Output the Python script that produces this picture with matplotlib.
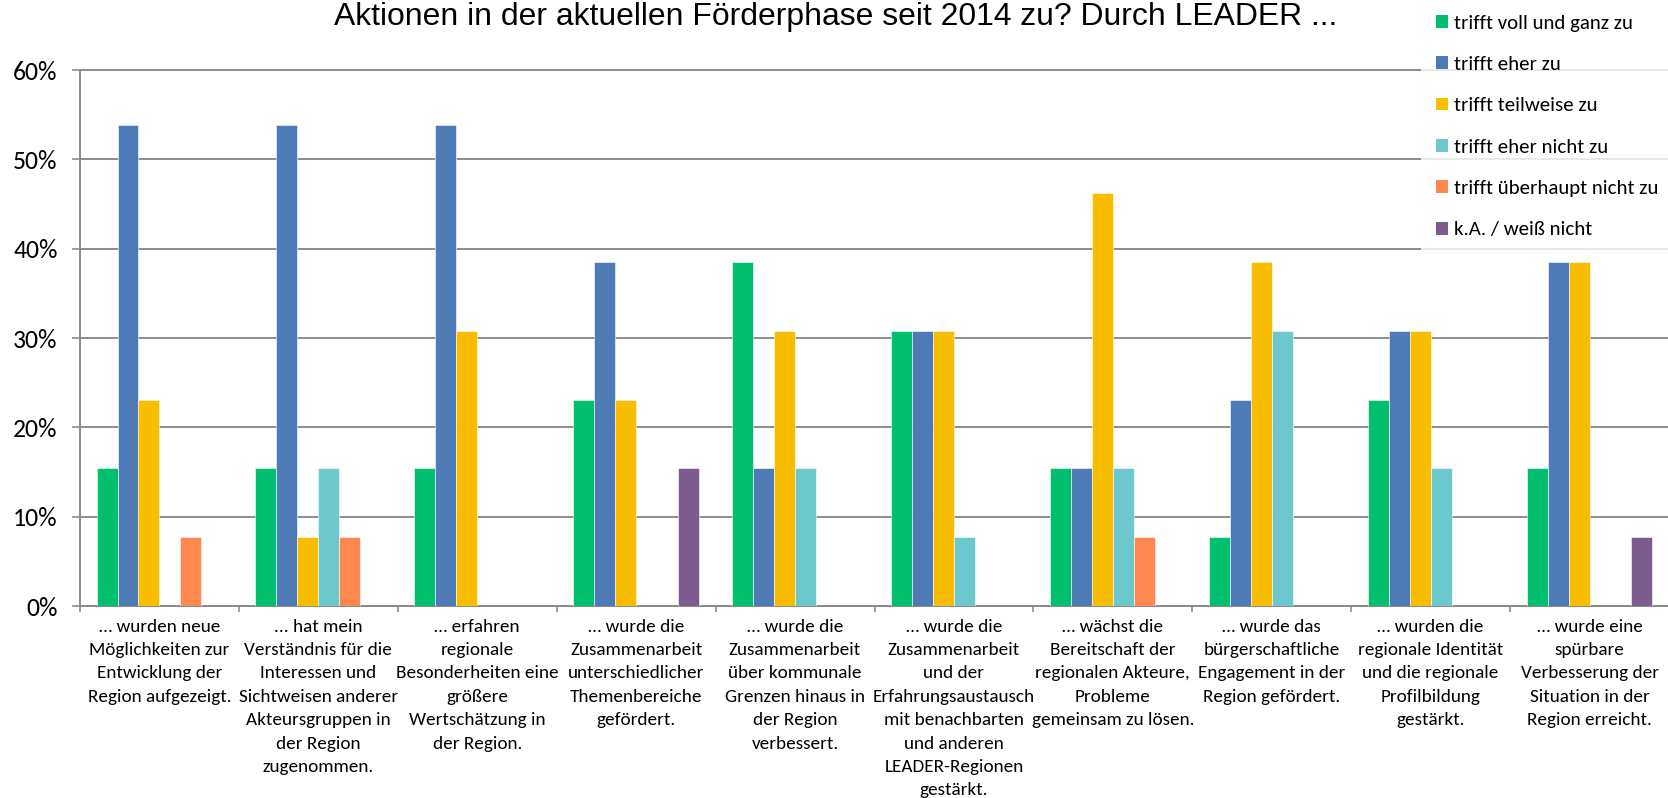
import numpy as np
import matplotlib
matplotlib.use("Agg")
import matplotlib.pyplot as plt
from matplotlib import font_manager
from matplotlib.patches import Patch

avail = {f.name for f in font_manager.fontManager.ttflist}
BODY = "Carlito" if "Carlito" in avail else "Lato"
TITLE = "Liberation Sans" if "Liberation Sans" in avail else "DejaVu Sans"

categories = [
    "… wurden neue\nMöglichkeiten zur\nEntwicklung der\nRegion aufgezeigt.",
    "... hat mein\nVerständnis für die\nInteressen und\nSichtweisen anderer\nAkteursgruppen in\nder Region\nzugenommen.",
    "… erfahren\nregionale\nBesonderheiten eine\ngrößere\nWertschätzung in\nder Region.",
    "… wurde die\nZusammenarbeit\nunterschiedlicher\nThemenbereiche\ngefördert.",
    "… wurde die\nZusammenarbeit\nüber kommunale\nGrenzen hinaus in\nder Region\nverbessert.",
    "… wurde die\nZusammenarbeit\nund der\nErfahrungsaustausch\nmit benachbarten\nund anderen\nLEADER-Regionen\ngestärkt.",
    "… wächst die\nBereitschaft der\nregionalen Akteure,\nProbleme\ngemeinsam zu lösen.",
    "… wurde das\nbürgerschaftliche\nEngagement in der\nRegion gefördert.",
    "… wurden die\nregionale Identität\nund die regionale\nProfilbildung\ngestärkt.",
    "… wurde eine\nspürbare\nVerbesserung der\nSituation in der\nRegion erreicht.",
]

series_names = [
    "trifft voll und ganz zu",
    "trifft eher zu",
    "trifft teilweise zu",
    "trifft eher nicht zu",
    "trifft überhaupt nicht zu",
    "k.A. / weiß nicht",
]

voll_und_ganz = [15.4, 15.4, 15.4, 23.1, 38.5, 30.8, 15.4, 7.7, 23.1, 15.4]
eher_zu = [53.8, 53.8, 53.8, 38.5, 15.4, 30.8, 15.4, 23.1, 30.8, 38.5]
teilweise = [23.1, 7.7, 30.8, 23.1, 30.8, 30.8, 46.2, 38.5, 30.8, 38.5]
eher_nicht = [0, 15.4, 0, 0, 15.4, 7.7, 15.4, 30.8, 15.4, 0]
ueberhaupt_nicht = [7.7, 7.7, 0, 0, 0, 0, 7.7, 0, 0, 0]
ka = [0, 0, 0, 15.4, 0, 0, 0, 0, 0, 7.7]

series = [voll_und_ganz, eher_zu, teilweise, eher_nicht, ueberhaupt_nicht, ka]
colors = ["#00BF6F", "#4E7AB5", "#F9BD00", "#6CC8CC", "#FF8850", "#7C5C8F"]

yticks = [0, 10, 20, 30, 40, 50, 60]
ytick_labels = ["0%", "10%", "20%", "30%", "40%", "50%", "60%"]

title = "Aktionen in der aktuellen Förderphase seit 2014 zu? Durch LEADER ..."

W, H = 1668, 798
fig = plt.figure(figsize=(W / 100, H / 100), dpi=100)
ax = fig.add_axes([80 / W, 192 / H, 1589 / W, 536 / H])

x = np.arange(len(categories))
bw = 0.132
for j, (vals, col) in enumerate(zip(series, colors)):
    ax.bar(x + (j - 2.5) * bw, vals, width=bw, color=col,
           edgecolor="white", linewidth=0.4, zorder=3)

ax.set_xlim(-0.5, len(categories) - 0.5)
ax.set_ylim(0, 60)
ax.set_yticks(yticks)
ax.set_yticklabels(ytick_labels, fontsize=18.5, family=BODY)
ax.yaxis.grid(True, color="#8C8C8C", linewidth=1.4, zorder=0)
for gl in ax.get_ygridlines():
    gl.set_clip_on(False)
ax.set_axisbelow(True)

ax.set_xticks(x)
ax.set_xticklabels(categories, fontsize=13.8, family=BODY, va="top")
for t in ax.xaxis.get_major_ticks():
    t.label1.set_linespacing(1.57)
ax.set_xticks(np.arange(-0.5, len(categories), 1.0), minor=True)
ax.tick_params(axis="x", which="major", length=0, pad=9)
ax.tick_params(axis="x", which="minor", length=4, width=1.2, color="#8C8C8C")
ax.tick_params(axis="y", length=6, width=1.2, color="#8C8C8C", pad=10)

for s in ["top", "right"]:
    ax.spines[s].set_visible(False)
for s in ["left", "bottom"]:
    ax.spines[s].set_color("#8C8C8C")
    ax.spines[s].set_linewidth(1.4)

ttl = fig.text(334 / W, 1 - 25 / H, title, family=TITLE, fontsize=22.8,
               ha="left", va="baseline")
# fit the title to its measured width in the reference (about 1003 px)
renderer = fig.canvas.get_renderer()
w_now = ttl.get_window_extent(renderer).width
ttl.set_fontsize(22.8 * 1003 / w_now)

handles = [Patch(facecolor=c, edgecolor="none") for c in colors]
leg = fig.legend(handles, series_names, loc="upper left",
                 bbox_to_anchor=(1421 / W, 1.0), borderaxespad=0,
                 frameon=True, fancybox=False, borderpad=0.7,
                 handlelength=0.58, handleheight=0.58, handletextpad=0.3,
                 labelspacing=1.17,
                 prop={"family": BODY, "size": 15})
leg.get_frame().set_facecolor("white")
leg.get_frame().set_edgecolor("none")
leg.set_zorder(10)

fig.savefig("out.png", dpi=100, facecolor="white")
